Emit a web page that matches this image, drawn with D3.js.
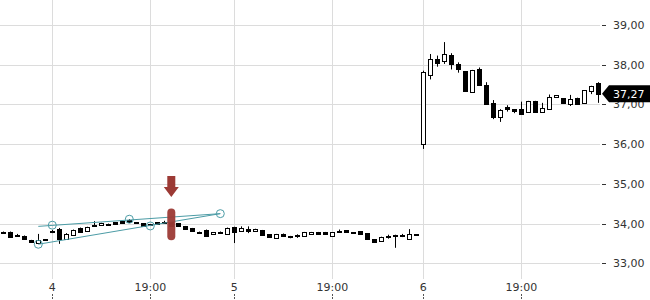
<!DOCTYPE html>
<html>
<head>
<meta charset="utf-8">
<script src="https://cdn.jsdelivr.net/npm/d3@7"></script>
<style>
  body { margin: 0; background: #fff; }
  text { font-family: "DejaVu Sans", sans-serif; }
</style>
</head>
<body>
<div id="chart"></div>
<script>
// candles (one every bar, index based)
const opens  = [33.79,33.79,33.72,33.69,33.58,33.51,33.60,33.82,33.86,33.61,33.72,33.89,33.81,33.97,33.96,33.99,34.04,34.06,34.09,34.04,
                34.01,33.99,34.03,34.05,34.04,34.01,33.94,33.89,33.80,33.84,33.73,33.78,33.74,33.91,33.81,33.86,33.82,33.84,33.73,33.63,
                33.75,33.69,33.71,33.69,33.74,33.79,33.78,33.69,33.80,33.83,33.80,33.81,33.76,33.60,33.56,33.68,33.70,33.69,33.62,33.73,
                36.00,37.75,38.14,38.09,38.24,38.02,37.83,37.32,37.88,37.50,37.04,36.69,36.94,36.88,36.88,36.80,37.09,36.82,36.88,37.19,
                37.15,37.00,37.17,37.03,37.35,37.53]
const highs  = [33.80,33.80,33.74,33.70,33.59,33.74,33.60,33.84,33.89,33.76,33.85,33.90,33.92,34.06,34.02,34.00,34.04,34.06,34.11,34.04,
                34.01,33.99,34.03,34.07,34.04,34.01,33.94,33.89,33.80,33.85,33.78,33.80,33.90,33.92,33.93,33.93,33.87,33.84,33.73,33.74,
                33.75,33.69,33.73,33.79,33.79,33.79,33.79,33.78,33.85,33.83,33.80,33.81,33.76,33.60,33.67,33.72,33.72,33.74,33.86,33.73,
                37.85,38.27,38.23,38.57,38.29,38.06,37.84,37.87,37.93,37.56,37.11,36.88,36.98,36.88,37.07,37.09,37.09,37.04,37.25,37.23,
                37.15,37.24,37.17,37.36,37.47,37.56]
const lows   = [33.77,33.65,33.69,33.60,33.52,33.50,33.59,33.76,33.49,33.60,33.71,33.78,33.81,33.93,33.96,33.98,33.99,34.02,34.03,34.01,
                33.94,33.98,33.98,34.02,33.94,33.94,33.86,33.81,33.79,33.68,33.73,33.76,33.74,33.51,33.80,33.76,33.82,33.71,33.67,33.63,
                33.69,33.63,33.64,33.69,33.74,33.74,33.73,33.69,33.78,33.79,33.80,33.75,33.60,33.53,33.56,33.62,33.39,33.66,33.61,33.73,
                35.88,37.63,37.95,38.02,37.88,37.80,37.34,37.32,37.50,37.01,36.63,36.56,36.82,36.78,36.75,36.80,36.80,36.82,36.88,37.18,
                37.04,36.96,37.02,37.03,37.26,37.04]
const closes = [33.78,33.66,33.71,33.61,33.53,33.58,33.59,33.81,33.61,33.74,33.84,33.79,33.91,33.94,34.01,33.99,33.99,34.02,34.03,34.01,
                33.94,33.98,33.98,34.04,33.94,33.94,33.86,33.81,33.79,33.69,33.78,33.79,33.90,33.79,33.88,33.82,33.86,33.71,33.67,33.74,
                33.69,33.66,33.72,33.79,33.79,33.74,33.74,33.78,33.81,33.79,33.80,33.75,33.60,33.53,33.67,33.69,33.68,33.70,33.74,33.73,
                37.81,38.14,38.05,38.26,38.01,37.88,37.35,37.87,37.50,37.01,36.69,36.86,36.88,36.83,36.75,37.09,36.80,36.92,37.18,37.23,
                37.04,37.14,37.02,37.36,37.47,37.27]

// x axis ticks (bar index) and labels
const xTickIdx    = [7, 21, 33, 47, 60, 74]
const xTickLabels = ["4", "19:00", "5", "19:00", "6", "19:00"]
const yTicks = [33, 34, 35, 36, 37, 38, 39]

// drawings: trend channel points [bar index, price]
const upperLine = [[5, 33.93], [31, 34.25]]
const lowerLine = [[5, 33.48], [31, 34.25]]
const markerPts = [[5, 33.48], [7, 33.96], [18, 34.11], [21, 33.94], [31, 34.25]]
const signalIdx = 24
const signalPill = [34.38, 33.58]
const signalArrow = [35.20, 34.67]

const width = 650, height = 300
const plotRight = 600

const svg = d3.select("div#chart").append("svg").attr("width", width).attr("height", height)

const x = d3.scaleLinear().domain([0, closes.length - 1]).range([3.3, 598.3])
const y = d3.scaleLinear().domain([33, 39]).range([263.3, 25])
const fmt = v => v.toFixed(2).replace(".", ",")

// grid
const gridGroup = svg.append("g").attr("class", "grid")
gridGroup.selectAll("line.h").data(yTicks).join("line").attr("class", "h")
    .attr("x1", 0).attr("x2", plotRight)
    .attr("y1", d => Math.round(y(d)) + 0.5).attr("y2", d => Math.round(y(d)) + 0.5)
    .attr("stroke", "#dcdcdc")
gridGroup.selectAll("line.v").data(xTickIdx).join("line").attr("class", "v")
    .attr("x1", d => Math.round(x(d)) + 0.5).attr("x2", d => Math.round(x(d)) + 0.5)
    .attr("y1", 0).attr("y2", 279)
    .attr("stroke", "#dcdcdc")

// y axis (right)
const yAxisGroup = svg.append("g").attr("class", "yAxis")
yAxisGroup.selectAll("line").data(yTicks).join("line")
    .attr("x1", 602).attr("x2", 606)
    .attr("y1", d => Math.round(y(d)) + 0.5).attr("y2", d => Math.round(y(d)) + 0.5)
    .attr("stroke", "#333")
yAxisGroup.selectAll("text").data(yTicks).join("text")
    .attr("x", 613).attr("y", d => y(d)).attr("dy", "0.36em")
    .attr("font-size", 11).attr("fill", "#333")
    .text(fmt)

// x axis (bottom)
const xAxisGroup = svg.append("g").attr("class", "xAxis")
xAxisGroup.selectAll("text").data(xTickIdx).join("text")
    .attr("x", d => x(d)).attr("y", 291)
    .attr("text-anchor", "middle").attr("font-size", 11).attr("fill", "#333")
    .text((d, i) => xTickLabels[i])
xAxisGroup.selectAll("line").data(xTickIdx).join("line")
    .attr("x1", d => Math.round(x(d)) + 0.5).attr("x2", d => Math.round(x(d)) + 0.5)
    .attr("y1", 294).attr("y2", 300)
    .attr("stroke", "#555").attr("stroke-dasharray", "2,1")

// trend channel drawing
const teal = "#4c9ca6"
const drawGroup = svg.append("g").attr("class", "drawings")
const line = d3.line().x(d => x(d[0])).y(d => y(d[1]))
;[upperLine, lowerLine].forEach(l => {
    drawGroup.append("path").attr("d", line(l))
        .attr("fill", "none").attr("stroke", teal).attr("stroke-width", 1)
})

// signal pill + arrow
const red = "#9c3a35"
const sx = x(signalIdx)
drawGroup.append("rect")
    .attr("x", sx - 4).attr("width", 8)
    .attr("y", y(signalPill[0])).attr("height", y(signalPill[1]) - y(signalPill[0]))
    .attr("rx", 4).attr("fill", red).attr("opacity", 0.95)
const a0 = y(signalArrow[0]), a1 = y(signalArrow[1])
const shaftEnd = a1 - 10
drawGroup.append("path")
    .attr("d", `M${sx - 4},${a0} L${sx + 4},${a0} L${sx + 4},${shaftEnd} L${sx + 7.5},${shaftEnd} L${sx},${a1} L${sx - 7.5},${shaftEnd} L${sx - 4},${shaftEnd} Z`)
    .attr("fill", red)

// candles
const data = closes.map((c, i) => ({ i, o: opens[i], h: highs[i], l: lows[i], c }))
const candleGroup = svg.append("g").attr("class", "candles")
data.forEach(d => {
    const cx = Math.round(x(d.i)) + 0.5
    candleGroup.append("line")
        .attr("x1", cx).attr("x2", cx)
        .attr("y1", y(d.h)).attr("y2", y(d.l))
        .attr("stroke", "#000").attr("stroke-width", 1)
    const top = Math.round(y(Math.max(d.o, d.c)))
    const bot = Math.round(y(Math.min(d.o, d.c)))
    candleGroup.append("rect")
        .attr("x", cx - 2).attr("width", 4)
        .attr("y", top + 0.5).attr("height", Math.max(bot - top, 0.5))
        .attr("fill", d.c >= d.o ? "#fff" : "#000")
        .attr("stroke", "#000").attr("stroke-width", 1)
        .attr("shape-rendering", "crispEdges")
})

// channel point markers on top
drawGroup.raise()
drawGroup.selectAll("circle").data(markerPts).join("circle")
    .attr("cx", d => x(d[0])).attr("cy", d => y(d[1])).attr("r", 4)
    .attr("fill", "none").attr("stroke", teal).attr("stroke-width", 1)

// last price tag
const last = closes[closes.length - 1]
const ly = y(last)
svg.append("path")
    .attr("d", `M602,${ly} L609,${ly - 8.5} L650,${ly - 8.5} L650,${ly + 8.5} L609,${ly + 8.5} Z`)
    .attr("fill", "#000")
svg.append("text")
    .attr("x", 613).attr("y", ly).attr("dy", "0.36em")
    .attr("font-size", 11).attr("fill", "#fff")
    .text(fmt(last))
</script>
</body>
</html>
